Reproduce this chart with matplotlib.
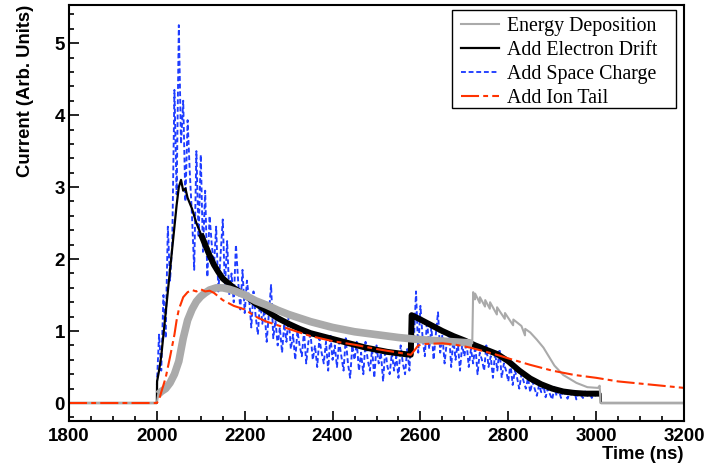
import numpy as np
import matplotlib.pyplot as plt
from matplotlib.ticker import MultipleLocator
from matplotlib.patches import Rectangle

# Energy Deposition (grey)
edep_t = [1800, 2000, 2003, 2010, 2020, 2030, 2040, 2050, 2060, 2070, 2080, 2090, 2100, 2110,
          2120, 2135, 2150, 2165, 2180, 2200, 2225, 2250, 2275, 2300, 2350, 2400, 2450, 2500,
          2550, 2600, 2650, 2700, 2718, 2720, 2724, 2724.5, 2735, 2735.5, 2747, 2747.5, 2758,
          2758.5, 2774, 2774.5, 2792, 2792.5, 2811, 2811.5, 2830, 2838, 2838.5, 2850, 2865,
          2880, 2893, 2905, 2925, 2955, 2980, 3004, 3008, 3010, 3200]
edep_v = [0, 0, 0.12, 0.16, 0.2, 0.28, 0.4, 0.58, 0.9, 1.15, 1.3, 1.41, 1.48, 1.53,
          1.57, 1.6, 1.6, 1.58, 1.55, 1.5, 1.42, 1.36, 1.29, 1.23, 1.13, 1.05, 0.99, 0.95,
          0.91, 0.88, 0.86, 0.84, 0.83, 1.54, 1.44, 1.52, 1.39, 1.47, 1.34, 1.43, 1.31,
          1.40, 1.23, 1.33, 1.17, 1.25, 1.08, 1.16, 1.07, 0.94, 1.03, 0.98, 0.88,
          0.77, 0.64, 0.52, 0.39, 0.28, 0.22, 0.21, 0.24, 0.0, 0.0]

# Add Electron Drift (black)
drift_t = [1800, 2000, 2000.5, 2005, 2010, 2015, 2020, 2025, 2030, 2035, 2040, 2045, 2050, 2055,
           2060, 2065, 2070, 2080, 2090, 2100, 2110, 2120, 2130, 2140, 2150, 2175, 2200, 2225,
           2250, 2275, 2300, 2325, 2350, 2375, 2400, 2425, 2450, 2475, 2500, 2525, 2550, 2578,
           2580, 2600, 2625, 2650, 2675, 2700, 2725, 2750, 2775, 2800, 2825, 2850, 2875, 2900,
           2925, 2950, 2975, 3000, 3010, 3011, 3200]
drift_v = [0, 0, 0.3, 0.45, 0.65, 0.95, 1.25, 1.55, 1.85, 2.15, 2.45, 2.75, 3.0, 3.1,
           2.95, 2.98, 2.85, 2.7, 2.5, 2.35, 2.2, 2.05, 1.92, 1.82, 1.73, 1.6, 1.5, 1.38,
           1.28, 1.18, 1.1, 1.03, 0.97, 0.93, 0.89, 0.85, 0.81, 0.77, 0.74, 0.71, 0.69, 0.67,
           1.22, 1.16, 1.08, 1.0, 0.93, 0.87, 0.8, 0.74, 0.68, 0.58, 0.45, 0.34, 0.26, 0.2,
           0.16, 0.14, 0.13, 0.13, 0.13, 0.0, 0.0]

# Add Space Charge (blue), one sample every 5 ns starting at 2000 ns
space_t0 = 2000
space_v = [0.25, 0.95, 0.45, 1.5, 0.9, 2.45, 1.7, 2.2, 4.35, 2.9, 5.25, 3.6, 4.2, 2.8, 3.93, 3.2, 2.6, 1.85, 3.5, 2.3,
           3.45, 2.1, 2.95, 1.75, 2.6, 2.2, 1.9, 2.45, 1.55, 2.05, 2.55, 1.6, 2.25, 1.5, 1.8, 1.4, 2.2, 1.7, 1.3, 1.85,
           1.25, 1.7, 1.45, 1.05, 1.55, 1.2, 0.95, 1.45, 1.1, 1.3, 0.85, 1.25, 1.64, 0.9, 1.15, 0.8, 1.05, 0.7, 1.1, 0.85,
           1.2, 0.75, 0.95, 0.6, 1.0, 0.8, 0.65, 1.0, 0.55, 0.85, 0.95, 0.6, 0.8, 0.5, 0.9, 0.7, 0.55, 0.85, 0.45, 0.95,
           0.6, 0.8, 0.5, 0.85, 0.65, 0.45, 0.9, 0.55, 0.35, 0.8, 0.6, 0.85, 0.45, 0.7, 0.4, 0.85, 0.6, 0.45, 0.75, 0.35,
           0.8, 0.55, 0.7, 0.3, 0.75, 0.5, 0.4, 0.7, 0.45, 0.65, 0.35, 0.8, 0.55, 0.4, 0.75, 0.45,
           1.2, 0.85, 1.55, 0.7, 1.35, 0.9, 0.65, 1.15, 0.75, 1.05, 0.6, 0.95, 1.26, 0.7, 0.95, 0.55, 0.85, 1.0, 0.5, 0.9,
           0.6, 0.85, 0.45, 0.8, 0.65, 0.85, 0.5, 0.75, 0.55, 0.8, 0.4, 0.7, 0.6, 0.45, 0.8, 0.5, 0.65, 0.35, 0.7, 0.45,
           0.75, 0.35, 0.55, 0.45, 0.3, 0.55, 0.25, 0.45, 0.35, 0.2, 0.4, 0.3, 0.2, 0.35, 0.15, 0.3, 0.2, 0.1, 0.25, 0.15,
           0.25, 0.08, 0.2, 0.12, 0.05, 0.22, 0.1, 0.18, 0.07, 0.2, 0.12, 0.06, 0.15, 0.1, 0.17, 0.05, 0.15, 0.11, 0.07, 0.16,
           0.1, 0.15, 0.07, 0.14, 0.09, 0.12]
space_t = space_t0 + 5 * np.arange(len(space_v))

# Add Ion Tail (red)
ion_t = [1800, 2000, 2005, 2010, 2020, 2030, 2040, 2045, 2050, 2060, 2070, 2080, 2090, 2100,
         2110, 2120, 2130, 2140, 2150, 2175, 2200, 2225, 2250, 2300, 2350, 2400, 2450, 2500,
         2550, 2578, 2585, 2595, 2610, 2650, 2680, 2713, 2750, 2774, 2800, 2850, 2900, 2925,
         2950, 3000, 3050, 3100, 3150, 3200]
ion_v = [0, 0, 0.05, 0.15, 0.35, 0.64, 0.95, 1.15, 1.3, 1.47, 1.54, 1.57, 1.55, 1.58,
         1.55, 1.56, 1.53, 1.48, 1.43, 1.35, 1.3, 1.2, 1.13, 1.03, 0.93, 0.86, 0.81, 0.75,
         0.7, 0.67, 0.72, 0.8, 0.82, 0.83, 0.81, 0.77, 0.71, 0.67, 0.62, 0.53, 0.45, 0.42,
         0.39, 0.35, 0.3, 0.27, 0.24, 0.21]

plt.rcParams['font.family'] = ['Liberation Sans', 'DejaVu Sans']
plt.rcParams['font.weight'] = 'bold'
plt.rcParams['lines.scale_dashes'] = False

fig = plt.figure(figsize=(7.06, 4.67), dpi=100)
ax = fig.add_axes([69 / 706, 46 / 467, 615 / 706, 416 / 467])

grey = '#aaaaaa'
# drawing order: space charge, electron drift, energy deposition, ion tail
ax.plot(space_t, space_v, color='#1e3cff', lw=1.35, ls=(0, (3.5, 2.0)), label='Add Space Charge', zorder=2)

ax.plot(drift_t, drift_v, color='black', lw=1.6, label='Add Electron Drift', zorder=3)
dmask = (np.array(drift_t) >= 2100) & (np.array(drift_t) <= 3010)
ax.plot(np.array(drift_t)[dmask], np.array(drift_v)[dmask], color='black', lw=4.3,
        solid_capstyle='butt', zorder=3)

ax.plot(edep_t, edep_v, color=grey, lw=1.5, label='Energy Deposition', zorder=4)
mask = (np.array(edep_t) > 2001) & (np.array(edep_t) < 2719)
ax.plot(np.array(edep_t)[mask], np.array(edep_v)[mask], color=grey, lw=5.5,
        solid_capstyle='butt', zorder=4)

ax.plot(ion_t, ion_v, color='#ff3300', lw=1.5, ls=(0, (13, 3, 3.5, 3)), label='Add Ion Tail', zorder=5)

ax.set_xlim(1800, 3200)
ax.set_ylim(-0.25, 5.53)

ax.xaxis.set_major_locator(MultipleLocator(200))
ax.xaxis.set_minor_locator(MultipleLocator(50))
ax.yaxis.set_major_locator(MultipleLocator(1))
ax.yaxis.set_minor_locator(MultipleLocator(0.2))
ax.tick_params(which='both', direction='in', top=False, right=False, width=1.2)
ax.tick_params(which='major', length=7.5, labelsize=13.5)
ax.tick_params(which='minor', length=3.8)
ax.tick_params(axis='x', pad=5)
ax.tick_params(axis='y', pad=3)
for s in ax.spines.values():
    s.set_linewidth(1.5)
    s.set_zorder(6)

ax.set_xlabel('Time (ns)', loc='right', fontsize=13.3, fontweight='bold', labelpad=1)
ax.set_ylabel('Current (Arb. Units)', loc='top', fontsize=13.3, fontweight='bold', labelpad=15)

# legend: frame drawn as a separate rectangle in figure pixels
handles, labels = ax.get_legend_handles_labels()
order = [labels.index(n) for n in ['Energy Deposition', 'Add Electron Drift',
                                   'Add Space Charge', 'Add Ion Tail']]
fig.add_artist(Rectangle((452 / 706, 359 / 467), 224 / 706, 98 / 467, transform=fig.transFigure,
                         facecolor='white', edgecolor='black', lw=1.0, zorder=7))
leg = fig.legend([handles[i] for i in order], [labels[i] for i in order],
                 loc='upper left', bbox_to_anchor=(461 / 706, 450 / 467),
                 frameon=False,
                 prop={'family': 'Liberation Serif', 'size': 14.3, 'weight': 'normal'},
                 handlelength=1.9, handletextpad=0.4, labelspacing=0.25, borderpad=0,
                 borderaxespad=0)
leg.set_zorder(8)

fig.savefig('out.png', dpi=100)
